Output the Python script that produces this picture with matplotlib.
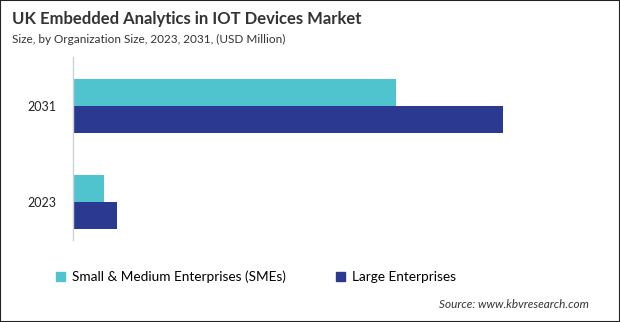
import matplotlib
matplotlib.use("Agg")
import matplotlib.pyplot as plt
from matplotlib.patches import Rectangle, Patch
import numpy as np

plt.rcParams['font.family'] = ['Lato', 'DejaVu Sans']

years = ['2023', '2031']
sme = [31.0, 322.5]
large = [44.0, 430.0]
series_names = ['Small & Medium Enterprises (SMEs)', 'Large Enterprises']
colors = ['#4FC4CF', '#2B3990']

fig = plt.figure(figsize=(6.2, 3.22), dpi=100)
ax = fig.add_axes([73 / 620, 82 / 322, 527 / 620, 183 / 322])

y = np.arange(len(years))
h = 0.28
ax.barh(y + h / 2, sme, height=h, color=colors[0], label=series_names[0])
ax.barh(y - h / 2, large, height=h, color=colors[1], label=series_names[1])

ax.set_xlim(0, 527)
ax.set_ylim(-0.396, 1.51)
ax.set_yticks(y)
ax.set_yticklabels(years, fontsize=9, color='#222222')
ax.tick_params(axis='y', length=0, pad=12)
ax.set_xticks([])
for s in ['top', 'right', 'bottom']:
    ax.spines[s].set_visible(False)
ax.spines['left'].set_color('#D0D0D0')
ax.spines['left'].set_linewidth(1)

fig.text(12 / 620, 1 - 19 / 322, 'UK Embedded Analytics in IOT Devices Market',
         fontsize=12, fontweight='bold', color='#333333', va='center', ha='left')
fig.text(12 / 620, 1 - 39 / 322, 'Size, by Organization Size, 2023, 2031, (USD Million)',
         fontsize=8.5, color='#333333', va='center', ha='left')

handles = [Patch(color=c) for c in colors]
fig.legend(handles, series_names, loc='center left', bbox_to_anchor=(44 / 620, 1 - 277 / 322),
           ncol=2, frameon=False, fontsize=9.8, handlelength=0.65, handleheight=0.65,
           handletextpad=0.5, columnspacing=3.7)

fig.text(589 / 620, 1 - 304 / 322, 'Source: www.kbvresearch.com', fontsize=8.5,
         style='italic', color='#333333', va='center', ha='right')

fig.patches.append(Rectangle((0, 0), 1, 1, transform=fig.transFigure, fill=False,
                             edgecolor='#222222', linewidth=1.5))

fig.savefig('out.png', dpi=100)
